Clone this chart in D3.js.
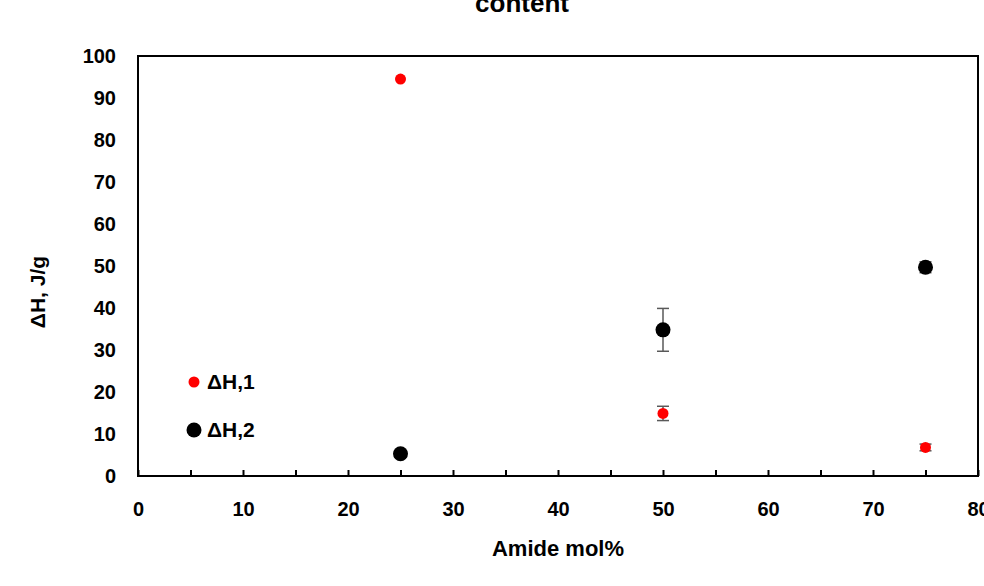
<!DOCTYPE html>
<html>
<head>
<meta charset="utf-8">
<script src="https://cdn.jsdelivr.net/npm/d3@7"></script>
<style>
  body { margin: 0; background: #fff; }
  text { font-family: "Liberation Sans", Arial, sans-serif; font-weight: bold; }
</style>
</head>
<body>
<div id="chart"></div>
<script>
// data
const amide = [25, 50, 75];
const dh1 = [94.5, 14.9, 6.8];
const dh1Err = [0, 1.7, 0.8];
const dh2 = [5.3, 34.8, 49.7];
const dh2Err = [0.8, 5.1, 1.3];
const xTicks = [0, 10, 20, 30, 40, 50, 60, 70, 80];
const yTicks = [0, 10, 20, 30, 40, 50, 60, 70, 80, 90, 100];

const width = 984;
const height = 586;
const margin = { top: 56, right: 6, bottom: 110, left: 138 };

const svg = d3.select("#chart")
  .append("svg")
  .attr("width", width)
  .attr("height", height);

const x = d3.scaleLinear()
  .domain([0, 80])
  .range([margin.left, width - margin.right]);

const y = d3.scaleLinear()
  .domain([0, 100])
  .range([height - margin.bottom, margin.top]);

// plot frame
svg.append("rect")
  .attr("x", x(0))
  .attr("y", y(100))
  .attr("width", x(80) - x(0))
  .attr("height", y(0) - y(100))
  .attr("fill", "none")
  .attr("stroke", "#000")
  .attr("stroke-width", 2);

// x axis: ticks every 5, pointing in, labels at 10s
const xAxis = svg.append("g")
  .attr("transform", `translate(0, ${y(0)})`)
  .call(d3.axisBottom(x)
    .tickValues(d3.range(0, 81, 5))
    .tickSize(-6)
    .tickPadding(26)
    .tickFormat(d => xTicks.includes(d) ? d : ""));
xAxis.select(".domain").remove();
xAxis.selectAll("line").attr("stroke", "#000").attr("stroke-width", 2);
xAxis.selectAll("text")
  .style("font-size", "20px")
  .style("font-weight", "bold")
  .attr("fill", "#000");

// y axis labels only
const yAxis = svg.append("g")
  .attr("transform", `translate(${x(0)}, 0)`)
  .call(d3.axisLeft(y).tickValues(yTicks).tickSize(0).tickPadding(22));
yAxis.select(".domain").remove();
yAxis.selectAll("text")
  .style("font-size", "20px")
  .style("font-weight", "bold")
  .attr("fill", "#000");

// title (first line is off the top of the picture)
svg.append("text")
  .attr("x", 522)
  .attr("y", 12)
  .attr("text-anchor", "middle")
  .style("font-size", "26px")
  .text("content");

// axis titles
svg.append("text")
  .attr("x", 558)
  .attr("y", 556)
  .attr("text-anchor", "middle")
  .style("font-size", "22px")
  .text("Amide mol%");

svg.append("text")
  .attr("transform", "rotate(-90)")
  .attr("x", -292)
  .attr("y", 45)
  .attr("text-anchor", "middle")
  .style("font-size", "21px")
  .text("ΔH, J/g");

// error bars + points
function drawSeries(vals, errs, color, r) {
  const g = svg.append("g");
  amide.forEach((a, i) => {
    if (errs[i] > 0) {
      const cx = x(a);
      const y1 = y(vals[i] + errs[i]);
      const y2 = y(vals[i] - errs[i]);
      g.append("line")
        .attr("x1", cx).attr("x2", cx)
        .attr("y1", y1).attr("y2", y2)
        .attr("stroke", "#595959").attr("stroke-width", 1.5);
      [y1, y2].forEach(yy => {
        g.append("line")
          .attr("x1", cx - 6).attr("x2", cx + 6)
          .attr("y1", yy).attr("y2", yy)
          .attr("stroke", "#595959").attr("stroke-width", 1.5);
      });
    }
  });
  g.selectAll("circle")
    .data(vals)
    .join("circle")
    .attr("cx", (d, i) => x(amide[i]))
    .attr("cy", d => y(d))
    .attr("r", r)
    .attr("fill", color);
}
drawSeries(dh1, dh1Err, "#ff0000", 5.5);
drawSeries(dh2, dh2Err, "#000000", 7.5);

// legend
const legend = svg.append("g").attr("transform", "translate(194, 382)");
[["ΔH,1", "#ff0000", 5.5], ["ΔH,2", "#000000", 7.5]].forEach((d, i) => {
  legend.append("circle")
    .attr("cx", 0)
    .attr("cy", i * 48)
    .attr("r", d[2])
    .attr("fill", d[1]);
  legend.append("text")
    .attr("x", 13)
    .attr("y", i * 48 + 7)
    .style("font-size", "21px")
    .text(d[0]);
});
</script>
</body>
</html>
